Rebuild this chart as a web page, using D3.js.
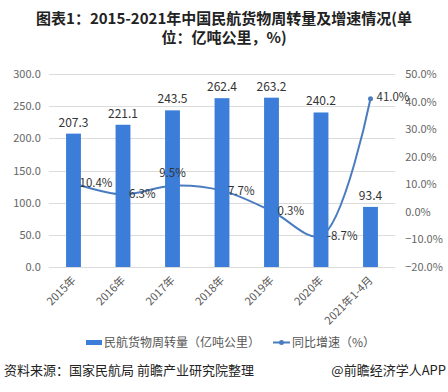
<!DOCTYPE html>
<html><head><meta charset="utf-8">
<script src="https://cdn.jsdelivr.net/npm/d3@7"></script>
<style>
body{margin:0;background:#fff;}
svg{display:block;font-family:"Noto Sans CJK SC","Noto Sans",sans-serif;}
</style></head>
<body>
<svg id="c" width="448" height="392"></svg>
<script>
const categories = ["2015年","2016年","2017年","2018年","2019年","2020年","2021年1-4月"];
const volume = [207.3,221.1,243.5,262.4,263.2,240.2,93.4];
const growth = [10.4,6.3,9.5,7.7,0.3,-8.7,41.0];
const leftTicks = [0,50,100,150,200,250,300];
const rightTicks = [-20,-10,0,10,20,30,40,50];
const titleLines = ["图表1：2015-2021年中国民航货物周转量及增速情况(单","位：亿吨公里，%)"];
const legendLabels = ["民航货物周转量（亿吨公里）","同比增速（%）"];
const sourceText = "资料来源：国家民航局 前瞻产业研究院整理";
const brandText = "@前瞻经济学人APP";

const svg = d3.select("#c");
const barColor = "#3b7dd8", lineColor = "#4a7cc0";
const plot = {left:48.75, right:395.25, top:74, bottom:267};

const x = d3.scaleBand().domain(categories).range([plot.left, plot.right]).paddingInner(0.7).paddingOuter(0.35);
const yL = d3.scaleLinear().domain([0,300]).range([plot.bottom, plot.top]);
const yR = d3.scaleLinear().domain([-20,50]).range([plot.bottom, plot.top]);
const cx = c => x(c) + x.bandwidth()/2;

// title
svg.append("g").selectAll("text").data(titleLines).join("text")
  .attr("x",224).attr("y",(d,i)=>24+i*19).attr("text-anchor","middle")
  .attr("font-size",15).attr("font-weight","bold").attr("fill","#222").text(d=>d);

// grid
svg.append("g").selectAll("line").data(leftTicks).join("line")
  .attr("x1",plot.left).attr("x2",plot.right)
  .attr("y1",d=>Math.round(yL(d))+0.5).attr("y2",d=>Math.round(yL(d))+0.5)
  .attr("stroke","#dcdcdc").attr("stroke-width",1);

// left axis
const la = svg.append("g").attr("transform",`translate(${plot.left-8},0)`)
  .call(d3.axisLeft(yL).tickValues(leftTicks).tickFormat(d=>d3.format(".1f")(d)).tickSize(0).tickPadding(0));
la.select(".domain").remove();
la.selectAll("text").attr("font-size",11).attr("fill","#666").attr("font-family","'Noto Sans CJK SC',sans-serif");

// right axis
const ra = svg.append("g").attr("transform",`translate(${plot.right+10},0)`)
  .call(d3.axisRight(yR).tickValues(rightTicks).tickFormat(d=>d3.format(".1f")(d)+"%").tickSize(0).tickPadding(0));
ra.select(".domain").remove();
ra.selectAll("text").attr("font-size",11).attr("fill","#666").attr("font-family","'Noto Sans CJK SC',sans-serif");

// line (drawn beneath bars)
const line = d3.line().x((d,i)=>cx(categories[i])).y(d=>yR(d)).curve(d3.curveCatmullRom.alpha(0.5));
svg.append("path").datum(growth).attr("d",line).attr("fill","none").attr("stroke",lineColor).attr("stroke-width",2);
svg.append("g").selectAll("circle").data(growth).join("circle")
  .attr("cx",(d,i)=>cx(categories[i])).attr("cy",d=>yR(d)).attr("r",2.5).attr("fill",lineColor);

// bars
svg.append("g").selectAll("rect").data(volume).join("rect")
  .attr("x",(d,i)=>x(categories[i])).attr("width",x.bandwidth())
  .attr("y",d=>yL(d)).attr("height",d=>yL(0)-yL(d)).attr("fill",barColor);

// bar labels
svg.append("g").selectAll("text").data(volume).join("text")
  .attr("x",(d,i)=>cx(categories[i])).attr("y",d=>yL(d)-7).attr("text-anchor","middle")
  .attr("font-size",12).attr("fill","#333").text(d=>d.toFixed(1));

// line labels
svg.append("g").selectAll("text").data(growth).join("text")
  .attr("x",(d,i)=> i===2 ? cx(categories[i]) : cx(categories[i])+6)
  .attr("y",(d,i)=> i===2 ? yR(d)-9 : (i===6 ? yR(d)+2 : yR(d)+4))
  .attr("text-anchor",(d,i)=> i===2 ? "middle":"start")
  .attr("font-size",11.5).attr("fill","#333").text(d=>d.toFixed(1)+"%");

// x labels
svg.append("g").selectAll("text").data(categories).join("text")
  .attr("transform",c=>`translate(${cx(c)+3},${plot.bottom+14}) rotate(-45)`)
  .attr("text-anchor","end").attr("font-size",11).attr("fill","#595959").text(d=>d);

// legend
const lg = svg.append("g");
lg.append("rect").attr("x",86).attr("y",340).attr("width",16).attr("height",5).attr("fill",barColor);
lg.append("text").attr("x",104).attr("y",347).attr("font-size",12).attr("fill","#555").text(legendLabels[0]);
lg.append("line").attr("x1",273).attr("x2",290).attr("y1",342.5).attr("y2",342.5).attr("stroke",lineColor).attr("stroke-width",2);
lg.append("circle").attr("cx",281.5).attr("cy",342.5).attr("r",2.5).attr("fill",lineColor);
lg.append("text").attr("x",292).attr("y",347).attr("font-size",12).attr("fill","#555").text(legendLabels[1]);

// source
svg.append("text").attr("x",4).attr("y",375).attr("font-size",13).attr("fill","#222").text(sourceText);
svg.append("text").attr("x",446).attr("y",375).attr("text-anchor","end").attr("font-size",13).attr("fill","#222").text(brandText);
</script>
</body></html>
